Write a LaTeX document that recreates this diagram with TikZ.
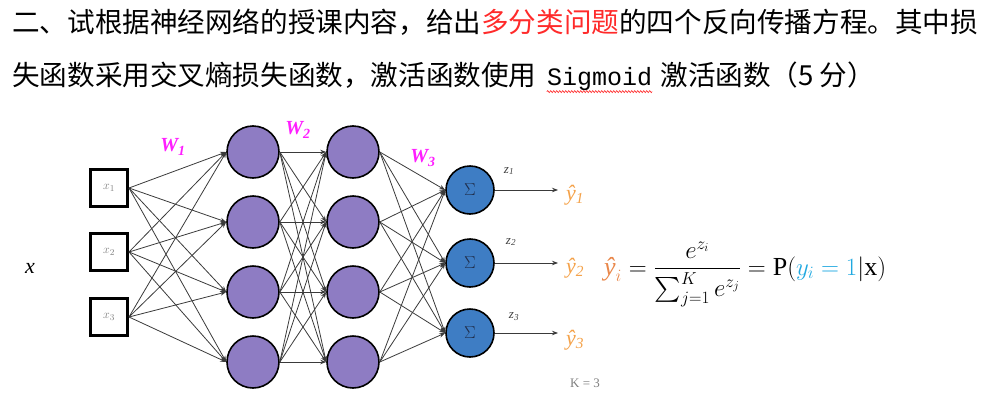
\documentclass[tikz,border=0pt]{standalone}
\usepackage{amsmath}
\usepackage{fontspec}
\setmainfont{Liberation Serif}
\setmonofont{Liberation Mono}
\newfontfamily\cjk{Noto Sans CJK SC}
\usetikzlibrary{arrows.meta,positioning,decorations.pathmorphing}
\definecolor{hidfill}{HTML}{8E7CC3}
\definecolor{outfill}{HTML}{3E7DC4}
\definecolor{wmag}{HTML}{FF1EFF}
\definecolor{yorange}{HTML}{F4A24A}
\definecolor{yhatc}{HTML}{E9874A}
\definecolor{ycyan}{HTML}{1FA8E0}
\definecolor{qred}{HTML}{FF2A2A}
\definecolor{wiregray}{HTML}{3A3A3A}
\definecolor{sigtext}{HTML}{1F2D4A}

\begin{document}
\begin{tikzpicture}[x=1pt,y=-1pt,every node/.style={inner sep=0pt},
  inbox/.style={draw,line width=3pt,minimum size=37pt,text=gray,font=\fontsize{13}{13}\selectfont},
  hid/.style={circle,draw,line width=1.6pt,fill=hidfill,minimum size=52pt},
  outn/.style={circle,draw,line width=1.6pt,fill=outfill,minimum size=48pt,text=sigtext,font=\fontsize{19}{19}\selectfont},
  wire/.style={wiregray,line width=0.8pt,-{Stealth[length=6pt,width=4.5pt]}},
  wlab/.style={text=wmag,font=\fontsize{20}{20}\selectfont\bfseries\itshape},
  zlab/.style={text=darkgray,font=\fontsize{13}{13}\selectfont\itshape},
  yhlab/.style={text=yorange,font=\fontsize{22}{22}\selectfont\itshape},
  qline/.style={anchor=west,font=\cjk\fontsize{27.6}{28}\selectfont}]
  \useasboundingbox (0,0) rectangle (989,410);

  % question text
  \node[qline] (q1) at (12,22) {二、试根据神经网络的授课内容，给出{\color{qred}多分类问题}的四个反向传播方程。其中损};
  \node[qline] (q2) at (12,75) {失函数采用交叉熵损失函数，激活函数使用};
  \node[anchor=base west,font=\ttfamily\fontsize{25}{25}\selectfont] (sig) at ([xshift=10pt]q2.base east) {Sigmoid};
  \node[anchor=base west,font=\cjk\fontsize{27.6}{28}\selectfont] (q3) at ([xshift=8pt]sig.base east) {激活函数（5 分）};
  \draw[qred,line width=0.6pt,decorate,decoration={snake,amplitude=1pt,segment length=3pt}]
    ([yshift=-1pt]sig.south west) -- ([yshift=-1pt]sig.south east);

  % layers
  \node[font=\fontsize{22}{22}\selectfont\itshape] (xin) at (30,268) {x};
  \foreach \i/\y in {1/188,2/252,3/317}
    \node[inbox] (x\i) at (109,\y) {$x_{\i}$};
  \foreach \i/\y in {1/152,2/222,3/292,4/362} {
    \node[hid] (a\i) at (253,\y) {};
    \node[hid] (b\i) at (353,\y) {};
  }
  \foreach \i/\y in {1/190,2/263,3/333}
    \node[outn] (o\i) at (470,\y) {$\Sigma$};

  % weights
  \foreach \i in {1,2,3}
    \foreach \j in {1,...,4}
      \draw[wire] (x\i.east) -- (a\j.west);
  \foreach \i in {1,...,4}
    \foreach \j in {1,...,4}
      \draw[wire] (a\i.east) -- (b\j.west);
  \foreach \i in {1,...,4}
    \foreach \j in {1,2,3}
      \draw[wire] (b\i.east) -- (o\j.west);

  \node[wlab] (w1) at (173,147) {W\textsubscript{1}};
  \node[wlab] (w2) at (298,130) {W\textsubscript{2}};
  \node[wlab] (w3) at (423,158) {W\textsubscript{3}};

  % outputs
  \foreach \i/\y/\zx/\zy in {1/190/509/171,2/263/511/242,3/333/514/317} {
    \coordinate (e\i) at (558,\y);
    \draw[wire] (o\i.east) -- (e\i);
    \node[zlab] (z\i) at (\zx,\zy) {z\textsubscript{\i}};
  }
  \node[yhlab] (yh1) at (575,195) {ŷ\textsubscript{1}};
  \node[yhlab] (yh2) at (575,268) {ŷ\textsubscript{2}};
  \node[yhlab] (yh3) at (575,340) {ŷ\textsubscript{3}};
  \node[text=gray,font=\fontsize{13}{13}\selectfont] (kval) at (585,383) {K = 3};

  % softmax
  \node[anchor=base west,font=\fontsize{26}{30}\selectfont] (soft) at (604,275)
    {${\color{yhatc}\text{\itshape ŷ}_i} = \dfrac{e^{z_i}}{\textstyle\sum_{j=1}^{K} e^{z_j}} = \mathrm{P}({\color{ycyan}y_i = 1}|\mathrm{x})$};
\end{tikzpicture}
\end{document}
